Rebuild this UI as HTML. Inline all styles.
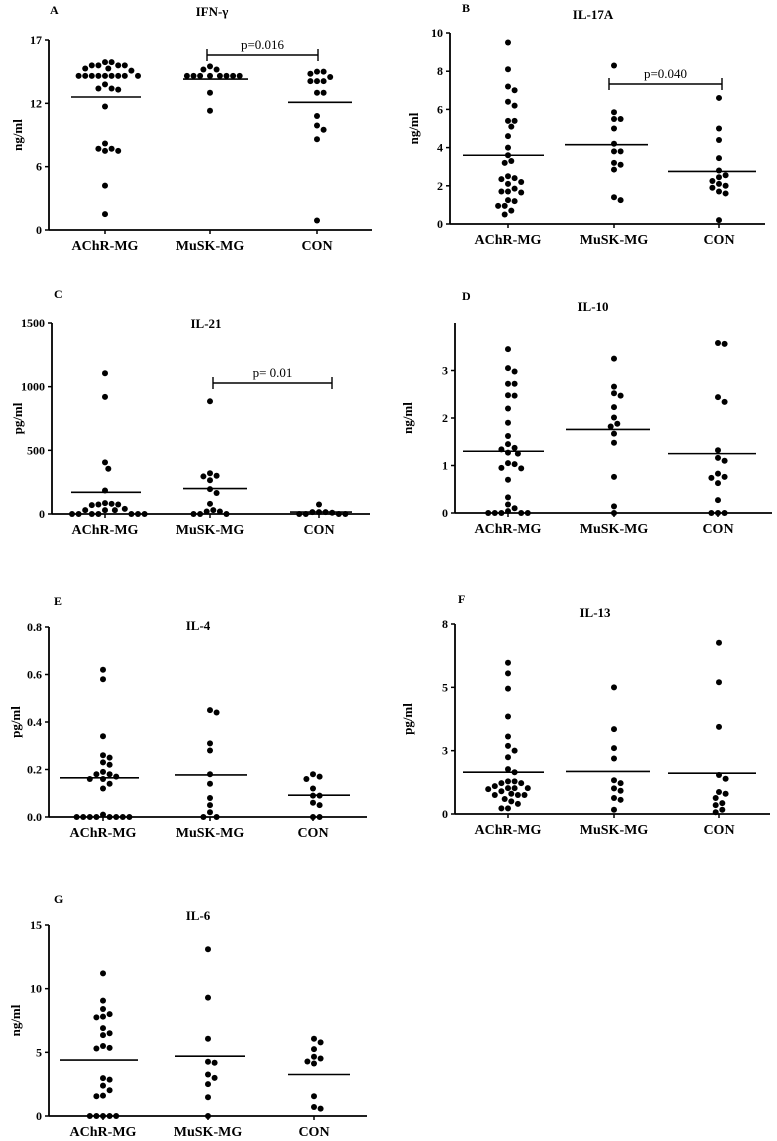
<!DOCTYPE html>
<html><head><meta charset="utf-8">
<style>
html,body{margin:0;padding:0;background:#fff;}
svg{display:block;font-family:"Liberation Serif",serif;}
</style></head>
<body>
<svg id="fig" width="777" height="1141" viewBox="0 0 777 1141"></svg>
<script>
const categories = ["AChR-MG","MuSK-MG","CON"];

const aAChR = [15.9,15.9,15.6,15.6,15.6,15.6,15.3,15.3,15.1,14.6,14.6,14.6,14.6,14.6,14.6,14.6,14.6,14.6,13.8,13.4,13.4,13.3,11.7,8.2,7.7,7.5,7.5,7.7,4.2,1.5];
const aMuSK = [15.5,15.2,15.2,14.6,14.6,14.6,14.6,14.6,14.6,14.6,14.6,13.0,11.3];
const aCON = [15.0,15.0,14.8,14.5,14.1,14.1,14.1,13.0,13.0,10.8,9.9,9.5,8.6,0.9];
const aMedians = [12.6,14.3,12.1];
const aTicks = [0,6,12,18];
const aTickLabels = ["0","6","12","17"];

const bAChR = [9.5,8.1,7.2,7.0,6.4,6.2,5.4,5.4,5.1,4.6,4.0,3.6,3.3,3.2,2.5,2.4,2.35,2.2,2.1,1.85,1.7,1.7,1.65,1.25,1.2,0.95,0.95,0.7,0.5];
const bMuSK = [8.3,5.85,5.5,5.5,5.0,4.2,3.8,3.8,3.2,3.1,2.85,1.4,1.25];
const bCON = [6.6,5.0,4.4,3.45,2.8,2.55,2.45,2.25,2.1,2.0,1.9,1.7,1.6,0.2];
const bMedians = [3.6,4.15,2.75];
const bTicks = [0,2,4,6,8,10];
const bTickLabels = ["0","2","4","6","8","10"];

const cAChR = [1105,920,405,355,185,85,80,75,75,70,40,30,30,30,0,0,0,0,0,0,0];
const cMuSK = [885,320,300,295,265,195,165,80,30,20,20,0,0,0];
const cCON = [75,15,15,15,10,0,0,0,0];
const cMedians = [170,200,15];
const cTicks = [0,500,1000,1500];
const cTickLabels = ["0","500","1000","1500"];

const dAChR = [3.45,3.05,2.98,2.72,2.72,2.48,2.47,2.2,1.9,1.62,1.45,1.37,1.34,1.27,1.25,1.05,1.03,0.95,0.94,0.7,0.33,0.18,0.1,0.04,0,0,0,0,0];
const dMuSK = [3.25,2.66,2.52,2.47,2.23,2.01,1.88,1.82,1.67,1.48,0.76,0.14,0];
const dCON = [3.58,3.56,2.44,2.34,1.32,1.16,1.1,0.83,0.76,0.74,0.63,0.27,0,0,0];
const dMedians = [1.3,1.76,1.25];
const dTicks = [0,1,2,3];
const dTickLabels = ["0","1","2","3"];

const eAChR = [0.62,0.58,0.34,0.26,0.25,0.23,0.22,0.19,0.18,0.18,0.17,0.16,0.16,0.14,0.12,0.01,0,0,0,0,0,0,0,0];
const eMuSK = [0.45,0.44,0.31,0.28,0.18,0.14,0.08,0.05,0.02,0,0];
const eCON = [0.18,0.17,0.16,0.12,0.09,0.09,0.06,0.05,0,0];
const eMedians = [0.165,0.177,0.092];
const eTicks = [0,0.2,0.4,0.6,0.8];
const eTickLabels = ["0.0","0.2","0.4","0.6","0.8"];

const fAChR = [5.97,5.55,4.95,3.85,3.06,2.69,2.5,2.24,1.77,1.65,1.29,1.29,1.22,1.22,1.1,1.02,1.02,1.02,0.98,0.9,0.8,0.75,0.75,0.75,0.59,0.5,0.4,0.22,0.22];
const fMuSK = [5.0,3.35,2.6,2.19,1.33,1.22,1.01,0.92,0.63,0.56,0.17];
const fCON = [6.76,5.2,3.44,1.54,1.39,0.87,0.8,0.63,0.43,0.35,0.17,0.07];
const fMedians = [1.65,1.68,1.61];
const fTicks = [0,2.5,5,7.5];
const fTickLabels = ["0","3","5","8"];

const gAChR = [11.2,9.06,8.4,8.0,7.8,7.75,6.9,6.5,6.35,5.5,5.35,5.3,2.97,2.86,2.39,2.02,1.6,1.55,0,0,0,0,0];
const gMuSK = [13.1,9.3,6.07,4.26,4.18,3.26,2.99,2.5,1.47,0];
const gCON = [6.07,5.78,5.25,4.65,4.52,4.28,4.12,1.55,0.71,0.58];
const gMedians = [4.39,4.7,3.26];
const gTicks = [0,5,10,15];
const gTickLabels = ["0","5","10","15"];

const NS="http://www.w3.org/2000/svg";
const svg=document.getElementById('fig');
function mk(tag,attrs,parent){const e=document.createElementNS(NS,tag);for(const k in attrs)e.setAttribute(k,attrs[k]);(parent||svg).appendChild(e);return e;}

const panels=[
 {id:"a",letter:"A",title:"IFN-\u03b3",unit:"ng/ml",groups:[aAChR,aMuSK,aCON],med:aMedians,ticks:aTicks,tl:aTickLabels,max:18,ax:49,xEnd:372,y0:230,yTop:40,cx:[105,210,317],mw:[[71,141],[183,248],[288,352]],lx:50,ly:14,tx:212,ty:16,ylx:22,p:{x1:207,x2:318,y:55,t:"p=0.016"}},
 {id:"b",letter:"B",title:"IL-17A",unit:"ng/ml",groups:[bAChR,bMuSK,bCON],med:bMedians,ticks:bTicks,tl:bTickLabels,max:10,ax:450,xEnd:765,y0:224,yTop:33,cx:[508,614,719],mw:[[463,544],[565,648],[668,756]],lx:462,ly:12,tx:593,ty:19,ylx:418,p:{x1:609,x2:722,y:84,t:"p=0.040"}},
 {id:"c",letter:"C",title:"IL-21",unit:"pg/ml",groups:[cAChR,cMuSK,cCON],med:cMedians,ticks:cTicks,tl:cTickLabels,max:1500,ax:52,xEnd:370,y0:514,yTop:323,cx:[105,210,319],mw:[[71,141],[183,247],[290,352]],lx:54,ly:298,tx:206,ty:328,ylx:22,p:{x1:213,x2:332,y:383,t:"p= 0.01"}},
 {id:"d",letter:"D",title:"IL-10",unit:"ng/ml",groups:[dAChR,dMuSK,dCON],med:dMedians,ticks:dTicks,tl:dTickLabels,max:4,ax:455,xEnd:772,y0:513,yTop:323,cx:[508,614,718],mw:[[463,544],[566,650],[668,756]],lx:462,ly:300,tx:593,ty:311,ylx:412,p:null},
 {id:"e",letter:"E",title:"IL-4",unit:"pg/ml",groups:[eAChR,eMuSK,eCON],med:eMedians,ticks:eTicks,tl:eTickLabels,max:0.8,ax:49,xEnd:367,y0:817,yTop:627,cx:[103,210,313],mw:[[60,139],[175,247],[288,350]],lx:54,ly:605,tx:198,ty:630,ylx:20,p:null},
 {id:"f",letter:"F",title:"IL-13",unit:"pg/ml",groups:[fAChR,fMuSK,fCON],med:fMedians,ticks:fTicks,tl:fTickLabels,max:7.5,ax:455,xEnd:770,y0:814,yTop:624,cx:[508,614,719],mw:[[463,544],[566,650],[668,756]],lx:458,ly:603,tx:595,ty:617,ylx:412,p:null},
 {id:"g",letter:"G",title:"IL-6",unit:"ng/ml",groups:[gAChR,gMuSK,gCON],med:gMedians,ticks:gTicks,tl:gTickLabels,max:15,ax:49,xEnd:367,y0:1116,yTop:925,cx:[103,208,314],mw:[[60,138],[175,245],[288,350]],lx:54,ly:903,tx:198,ty:920,ylx:20,p:null}
];

const R=3, STEP=6.6, MIND=6.4;

panels.forEach(P=>{
  const g=mk('g',{});
  
  
  const y=v=>P.y0-(v/P.max)*(P.y0-P.yTop);
  const lt=mk('text',{x:P.lx,y:P.ly,'font-size':12,'font-weight':'bold'},g);lt.textContent=P.letter;
  
  const tt=mk('text',{x:P.tx,y:P.ty,'font-size':13,'font-weight':'bold','text-anchor':'middle'},g);tt.textContent=P.title;
  
  const yl=mk('text',{x:P.ylx,y:(P.y0+P.yTop)/2,'font-size':13,'font-weight':'bold','text-anchor':'middle',transform:`rotate(-90 ${P.ylx} ${(P.y0+P.yTop)/2})`},g);yl.textContent=P.unit;
  
  const ya=mk('line',{x1:P.ax,y1:P.yTop,x2:P.ax,y2:P.y0,stroke:'#000','stroke-width':1.8},g);
  
  const xa=mk('line',{x1:P.ax,y1:P.y0,x2:P.xEnd,y2:P.y0,stroke:'#000','stroke-width':1.8},g);
  
  P.ticks.forEach((t,i)=>{
    const ty=y(t);
    mk('line',{x1:P.ax-4,y1:ty,x2:P.ax,y2:ty,stroke:'#000','stroke-width':1.5},g);
    const l=mk('text',{x:P.ax-7,y:ty+4,'font-size':12,'font-weight':'bold','text-anchor':'end'},g);l.textContent=P.tl[i];
    
  });
  categories.forEach((c,i)=>{
    mk('line',{x1:P.cx[i],y1:P.y0,x2:P.cx[i],y2:P.y0+4,stroke:'#000','stroke-width':1.5},g);
    const l=mk('text',{x:P.cx[i],y:P.y0+20,'font-size':14,'font-weight':'bold','text-anchor':'middle'},g);l.textContent=c;
    
    const vals=P.groups[i].slice().sort((a,b)=>b-a);
    const placed=[];
    vals.forEach(v=>{
      const py=y(v);
      let ox=0;
      for(let k=0;k<40;k++){
        const cand=k===0?0:(k%2?1:-1)*Math.ceil(k/2)*STEP/2;
        if(!placed.some(p=>Math.hypot(p[0]-cand,p[1]-py)<MIND)){ox=cand;break;}
      }
      placed.push([ox,py]);
      const d=mk('circle',{cx:P.cx[i]+ox,cy:py,r:R,fill:'#000'},g);
      
      
    });
    const m=mk('line',{x1:P.mw[i][0],y1:y(P.med[i]),x2:P.mw[i][1],y2:y(P.med[i]),stroke:'#000','stroke-width':1.6},g);
    
  });
  if(P.p){
    const b=mk('path',{d:`M${P.p.x1},${P.p.y-6}V${P.p.y+6}M${P.p.x1},${P.p.y}H${P.p.x2}M${P.p.x2},${P.p.y-6}V${P.p.y+6}`,stroke:'#000','stroke-width':1.4,fill:'none'},g);
    
    const pt=mk('text',{x:(P.p.x1+P.p.x2)/2,y:P.p.y-6,'font-size':13,'text-anchor':'middle'},g);pt.textContent=P.p.t;
    
  }
});
</script>
</body></html>
